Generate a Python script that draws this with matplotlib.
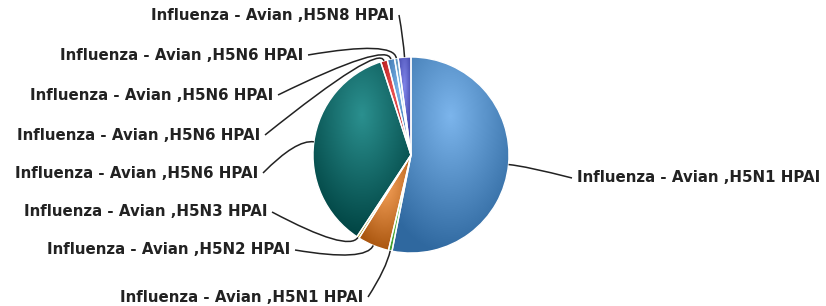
import numpy as np
import matplotlib
matplotlib.use("Agg")
from matplotlib import pyplot as plt
from matplotlib.path import Path
from matplotlib.patches import PathPatch
from matplotlib.colors import to_rgb

# data (clockwise from 12 o'clock)
labels = ["Influenza - Avian ,H5N1 HPAI", "Influenza - Avian ,H5N1 HPAI",
          "Influenza - Avian ,H5N2 HPAI", "Influenza - Avian ,H5N3 HPAI",
          "Influenza - Avian ,H5N6 HPAI", "Influenza - Avian ,H5N6 HPAI",
          "Influenza - Avian ,H5N6 HPAI", "Influenza - Avian ,H5N6 HPAI",
          "Influenza - Avian ,H5N8 HPAI"]
values = [53.1, 0.6, 5.2, 0.4, 35.7, 1.1, 1.2, 0.6, 2.1]
colors = ["#7cb5ec", "#90ed7d", "#f7a35c", "#e4d354", "#2b908f",
          "#f45b5b", "#7cb5ec", "#91c8f1", "#8085e9"]

# layout of the labels, in picture pixels (y from the top)
lab_y = [178, 297, 250, 212, 173, 135, 95, 55, 15]
lab_x = [577, 363, 290, 267, 258, 260, 273, 303, 394]
lab_side = ["r", "l", "l", "l", "l", "l", "l", "l", "l"]

W, H = 826, 306
cx, cy, R = 411, H - 155, 98

fig = plt.figure(figsize=(W / 100, H / 100), dpi=100)
ax = fig.add_axes([0, 0, 1, 1])

wedges, _ = ax.pie(values, colors=colors, startangle=90, counterclock=False,
                   center=(cx, cy), radius=R,
                   wedgeprops=dict(edgecolor="white", linewidth=1))
ax.set_xlim(0, W)
ax.set_ylim(0, H)
ax.axis("off")

# radial gradient per slice (like the highcharts pie-gradient demo)
for w, c in zip(wedges, colors):
    ext = w.get_path().get_extents()
    x0, x1, y0, y1 = ext.x0, ext.x1, ext.y0, ext.y1
    bw, bh = max(x1 - x0, 1), max(y1 - y0, 1)
    xs = np.linspace(x0, x1, 200)
    ys = np.linspace(y1, y0, 200)
    X, Y = np.meshgrid(xs, ys)
    gx, gy = x0 + 0.5 * bw, y1 - 0.3 * bh
    d = np.sqrt(((X - gx) / bw) ** 2 + ((Y - gy) / bh) ** 2) / 0.7
    t = np.clip(d, 0, 1)[..., None]
    base = np.array(to_rgb(c))
    dark = np.clip(base - 0.3, 0, 1)
    img = base * (1 - t) + dark * t
    im = ax.imshow(img, extent=(x0, x1, y0, y1), origin="upper",
                   interpolation="bilinear", zorder=1)
    im.set_clip_path(w)
    w.set_facecolor("none")
    w.set_zorder(2)

# labels and connectors
for w, lab, lx, ly, side in zip(wedges, labels, lab_x, lab_y, lab_side):
    a = np.deg2rad((w.theta1 + w.theta2) / 2)
    edge = (cx + R * np.cos(a), cy + R * np.sin(a))
    bend = (cx + (R + 18) * np.cos(a), cy + (R + 18) * np.sin(a))
    yy = H - ly
    if side == "l":
        ax.text(lx, yy, lab, ha="right", va="center", fontsize=10.8,
                fontweight="bold", color="#222222")
        start = (lx + 5, yy)
    else:
        ax.text(lx, yy, lab, ha="left", va="center", fontsize=10.8,
                fontweight="bold", color="#222222")
        start = (lx - 5, yy)
    p = Path([start, bend, edge], [Path.MOVETO, Path.CURVE3, Path.CURVE3])
    ax.add_patch(PathPatch(p, fill=False, edgecolor="#222222", lw=1.1, zorder=3))

fig.savefig("out.png", dpi=100)
